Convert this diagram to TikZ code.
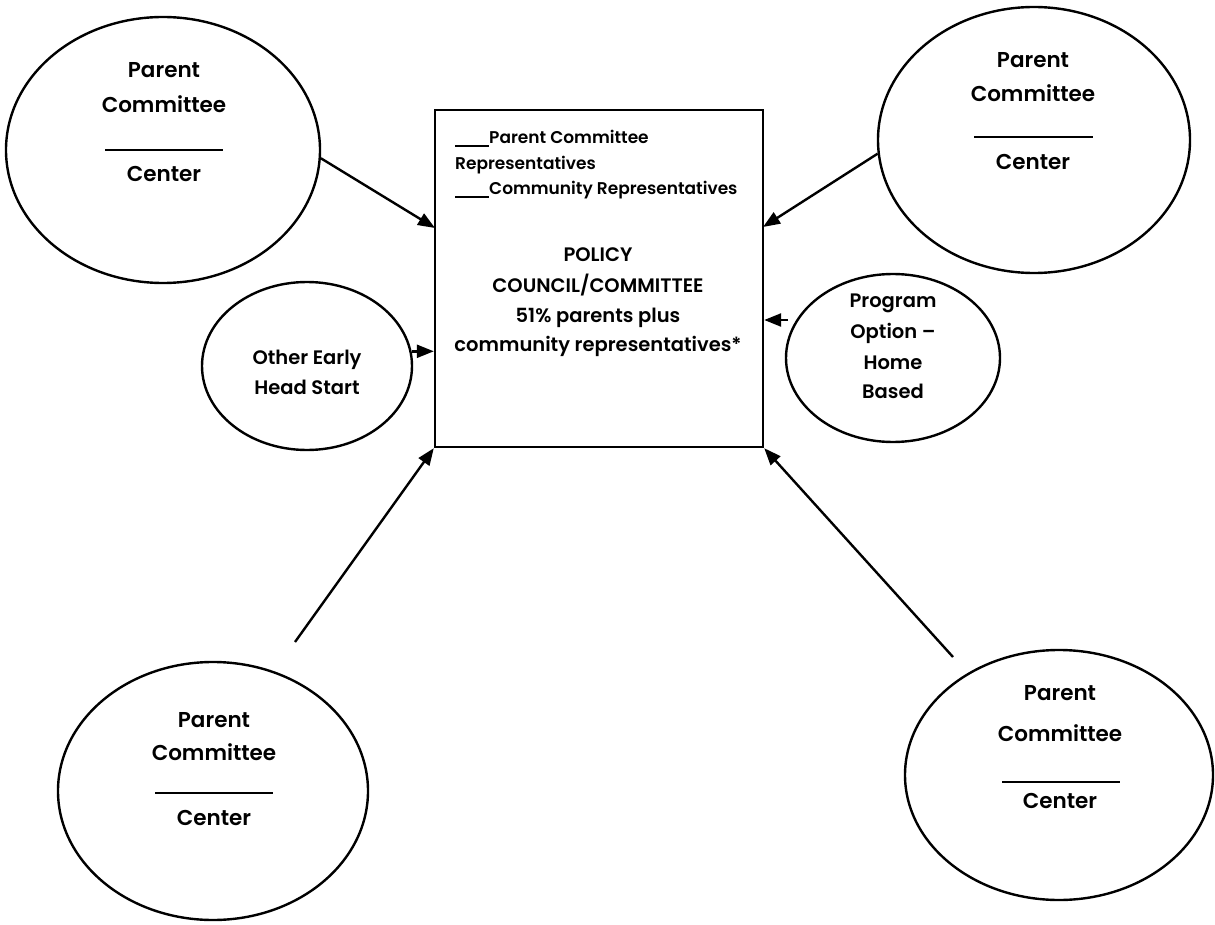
\documentclass[tikz,border=0pt]{standalone}
\usepackage{fontspec}
\setmainfont{Poppins}[BoldFont={* SemiBold}]
\usetikzlibrary{shapes.geometric,arrows.meta}
\newcommand{\blankline}{\rule[-3pt]{34pt}{1.6pt}}
\tikzset{
  oval/.style={draw, ellipse, line width=2.4pt, inner sep=0pt},
  box/.style={draw, rectangle, line width=2.4pt, inner sep=0pt},
  lbl/.style={anchor=base, inner sep=0pt, font=\fontsize{21.5}{26}\selectfont\bfseries},
  sml/.style={inner sep=0pt, align=center, font=\fontsize{19.5}{30}\selectfont\bfseries},
  boxtxt/.style={anchor=base west, inner sep=0pt, font=\fontsize{17}{20}\selectfont\bfseries},
  divider/.style={line width=1.8pt},
  conn/.style={line width=2.4pt, -{Triangle[length=17pt,width=13pt]}},
}
\begin{document}
\begin{tikzpicture}[x=1pt,y=-1pt]
\useasboundingbox (0,0) rectangle (1215,925);

% central box
\node[box, minimum width=328pt, minimum height=337pt] (box) at (599,278.5) {};
\node[boxtxt] (b1) at (455,144) {\blankline Parent Committee};
\node[boxtxt] (b2) at (455,170) {Representatives};
\node[boxtxt] (b3) at (455,195) {\blankline Community Representatives};
\node[sml, anchor=base] (c1) at (598,262) {POLICY};
\node[sml, anchor=base] (c2) at (598,293) {COUNCIL/COMMITTEE};
\node[sml, anchor=base] (c3) at (598,323) {51\% parents plus};
\node[sml, anchor=base] (c4) at (598,351) {community representatives*};

% top-left
\node[oval, minimum width=314pt, minimum height=266pt] (tl) at (163,150) {};
\node[lbl] (tlp) at (164,78) {Parent};
\node[lbl] (tlc) at (164,113) {Committee};
\node[lbl] (tlx) at (164,182) {Center};
\draw[divider] (105,150) -- (223,150);

% top-right
\node[oval, minimum width=312pt, minimum height=266pt] (tr) at (1034,140) {};
\node[lbl] (trp) at (1033,68) {Parent};
\node[lbl] (trc) at (1033,102) {Committee};
\node[lbl] (trx) at (1033,170) {Center};
\draw[divider] (974,137) -- (1093,137);

% bottom-left
\node[oval, minimum width=310pt, minimum height=258pt] (bl) at (213,791) {};
\node[lbl] (blp) at (214,727) {Parent};
\node[lbl] (blc) at (214,760) {Committee};
\node[lbl] (blx) at (214,825) {Center};
\draw[divider] (155,793) -- (273,793);

% bottom-right
\node[oval, minimum width=308pt, minimum height=250pt] (br) at (1059,775) {};
\node[lbl] (brp) at (1060,700) {Parent};
\node[lbl] (brc) at (1060,741) {Committee};
\node[lbl] (brx) at (1060,808) {Center};
\draw[divider] (1002,782) -- (1120,782);

% other early head start
\node[oval, minimum width=210pt, minimum height=168pt] (oe) at (307,366) {};
\node[sml, anchor=base] (oe1) at (307,364) {Other Early};
\node[sml, anchor=base] (oe2) at (307,394) {Head Start};

% program option
\node[oval, minimum width=214pt, minimum height=168pt] (po) at (893,358) {};
\node[sml, anchor=base] (po1) at (893,308) {Program};
\node[sml, anchor=base] (po2) at (893,338) {Option --};
\node[sml, anchor=base] (po3) at (893,369) {Home};
\node[sml, anchor=base] (po4) at (893,398) {Based};

% connectors
\coordinate (tlin) at (435,228);
\coordinate (trin) at (763,227);
\coordinate (poarr) at (788,320);
\coordinate (blarr) at (295,642);
\coordinate (brarr) at (953,657);
\draw[conn] (tl.-3) -- (tlin);
\draw[conn] (tr.185.5) -- (trin);
\draw[conn] (oe.8) -- (oe.8 -| box.west);
\draw[conn] (poarr) -- (poarr -| box.east);
\draw[conn] (blarr) -- (box.south west);
\draw[conn] (brarr) -- (box.south east);
\end{tikzpicture}
\end{document}
